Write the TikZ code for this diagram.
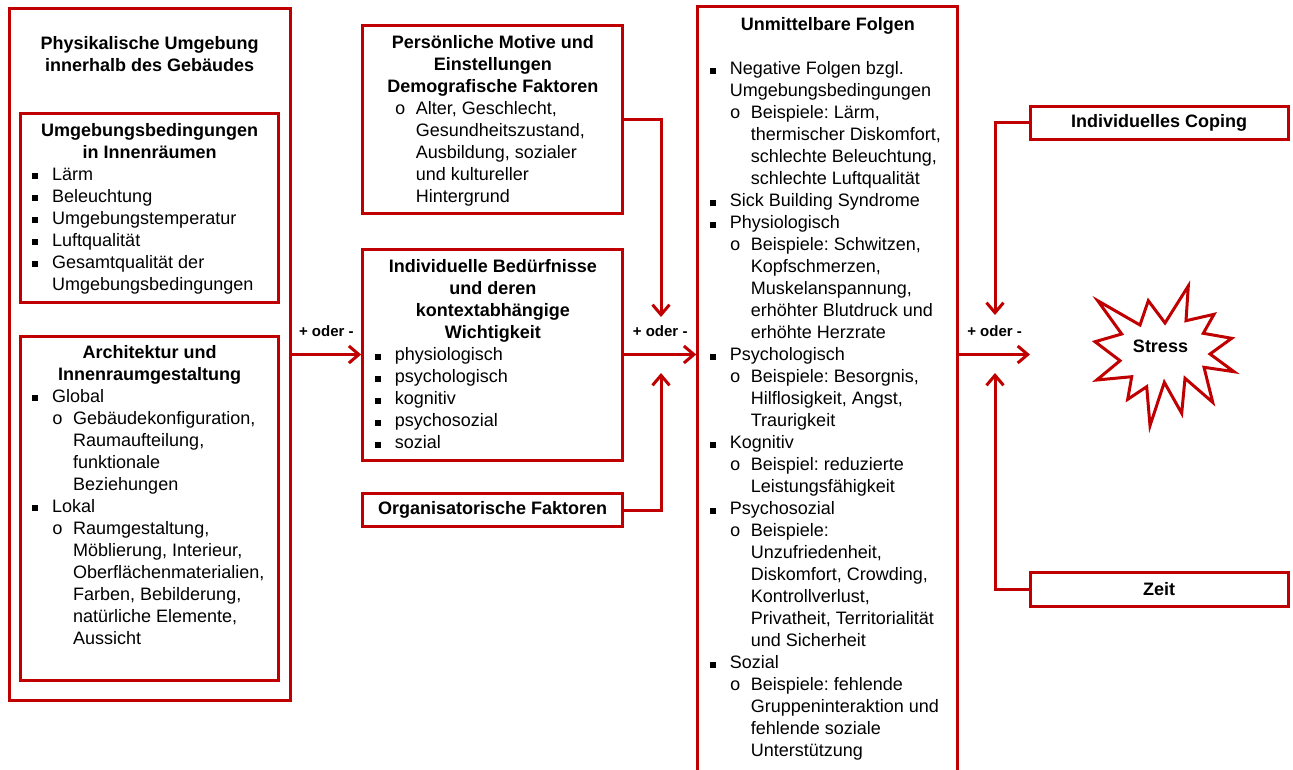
\documentclass[tikz,border=0pt]{standalone}
\usepackage{fontspec}
\setmainfont{Liberation Sans}
\newfontfamily\bulfont{Liberation Mono}
\usepackage{tikz}
\usetikzlibrary{positioning,arrows.meta}
\definecolor{dkred}{RGB}{192,0,0}

% list helpers: title, level-1 item, level-1 continuation, level-2 item, level-2 continuation
\newcommand{\hd}[1]{{\centering\bfseries #1\par}}
\newcommand{\ia}{\hspace*{12pt}\makebox[20pt][l]{\rule[0.8pt]{6pt}{6pt}}}
\newcommand{\ca}{\hspace*{32pt}}
\newcommand{\ib}{\hspace*{32pt}\makebox[21pt][l]{\bulfont o}}
\newcommand{\cb}{\hspace*{53pt}}
\newcommand{\boxtext}[2]{\parbox[t]{#1}{\frenchspacing #2}}

\begin{document}
\begin{tikzpicture}[>={Straight Barb[length=10pt,width=17pt]},x=1pt,y=-1pt,
  frame/.style={draw=dkred,line width=3pt,rectangle,inner sep=0pt},
  arr/.style={->,draw=dkred,line width=3pt},
  txt/.style={anchor=base west,inner sep=0pt,font=\fontsize{18}{22}\selectfont},
  hdbox/.style={frame,font=\fontsize{18}{22}\selectfont\bfseries},
  lbl/.style={inner sep=0pt,font=\fontsize{15}{18}\selectfont\bfseries}]
\useasboundingbox (0,0) rectangle (1293,769);

% boxes
\node[frame,minimum width=281pt,minimum height=692pt] (physbox) at (149.5,354.5) {};
\node[frame,minimum width=258.7pt,minimum height=189pt] (envbox) at (149.4,207.5) {};
\node[frame,minimum width=258.7pt,minimum height=343.8pt] (archbox) at (149.4,508.6) {};
\node[frame,minimum width=260pt,minimum height=188pt] (motivbox) at (492.7,119.3) {};
\node[frame,minimum width=260pt,minimum height=211pt] (needbox) at (492.7,354.5) {};
\node[hdbox,minimum width=260pt,minimum height=32.7pt] (orgbox) at (492.7,510.3) {Organisatorische Faktoren};
\node[frame,minimum width=260pt,minimum height=765.3pt] (folgenbox) at (827.7,389.35) {};
\node[hdbox,minimum width=258pt,minimum height=33.3pt] (copingbox) at (1159,122.7) {Individuelles Coping};
\node[hdbox,minimum width=258pt,minimum height=34pt] (zeitbox) at (1159,589) {Zeit};

% box texts
\node[txt] (phystext) at (9,49) {\boxtext{281pt}{\hd{Physikalische Umgebung\\innerhalb des Gebäudes}}};
\node[txt] (envtext) at (20,136) {\boxtext{258.7pt}{\hd{Umgebungsbedingungen\\in Innenräumen}\raggedright
  \ia Lärm\\ \ia Beleuchtung\\ \ia Umgebungstemperatur\\ \ia Luftqualität\\
  \ia Gesamtqualität der\\ \ca Umgebungsbedingungen}};
\node[txt] (archtext) at (20,358) {\boxtext{258.7pt}{\hd{Architektur und\\Innenraumgestaltung}\raggedright
  \ia Global\\ \ib Gebäudekonfiguration,\\ \cb Raumaufteilung,\\ \cb funktionale\\ \cb Beziehungen\\
  \ia Lokal\\ \ib Raumgestaltung,\\ \cb Möblierung, Interieur,\\ \cb Oberflächenmaterialien,\\
  \cb Farben, Bebilderung,\\ \cb natürliche Elemente,\\ \cb Aussicht}};
\node[txt] (motivtext) at (362.7,48.3) {\boxtext{260pt}{\hd{Persönliche Motive und\\Einstellungen\\Demografische Faktoren}\raggedright
  \ib Alter, Geschlecht,\\ \cb Gesundheitszustand,\\ \cb Ausbildung, sozialer\\ \cb und kultureller\\ \cb Hintergrund}};
\node[txt] (needtext) at (362.7,272.3) {\boxtext{260pt}{\hd{Individuelle Bedürfnisse\\und deren\\kontextabhängige\\Wichtigkeit}\raggedright
  \ia physiologisch\\ \ia psychologisch\\ \ia kognitiv\\ \ia psychosozial\\ \ia sozial}};
\node[txt] (folgentext) at (697.7,30.7) {\boxtext{260pt}{\hd{Unmittelbare Folgen}\vspace{22pt}\raggedright
  \ia Negative Folgen bzgl.\\ \ca Umgebungsbedingungen\\
  \ib Beispiele: Lärm,\\ \cb thermischer Diskomfort,\\ \cb schlechte Beleuchtung,\\ \cb schlechte Luftqualität\\
  \ia Sick Building Syndrome\\
  \ia Physiologisch\\ \ib Beispiele: Schwitzen,\\ \cb Kopfschmerzen,\\ \cb Muskelanspannung,\\ \cb erhöhter Blutdruck und\\ \cb erhöhte Herzrate\\
  \ia Psychologisch\\ \ib Beispiele: Besorgnis,\\ \cb Hilflosigkeit, Angst,\\ \cb Traurigkeit\\
  \ia Kognitiv\\ \ib Beispiel: reduzierte\\ \cb Leistungsfähigkeit\\
  \ia Psychosozial\\ \ib Beispiele:\\ \cb Unzufriedenheit,\\ \cb Diskomfort, Crowding,\\ \cb Kontrollverlust,\\ \cb Privatheit, Territorialität\\ \cb und Sicherheit\\
  \ia Sozial\\ \ib Beispiele: fehlende\\ \cb Gruppeninteraktion und\\ \cb fehlende soziale\\ \cb Unterstützung}};

% stress burst
\draw[draw=dkred,line width=3pt] (1097.7,300.7) -- (1140,325) -- (1148.3,300.7) -- (1165,323) -- (1188.3,286)
  -- (1186,320.7) -- (1214,314.3) -- (1203.3,333.3) -- (1231.7,338.3) -- (1210,354) -- (1234,371.7)
  -- (1204,367.3) -- (1212.7,402.3) -- (1185,378.3) -- (1181.7,413.3) -- (1164.3,382.3) -- (1150,425.7)
  -- (1146.7,386.7) -- (1127.7,399.3) -- (1131.7,376.7) -- (1096.7,380) -- (1120,360.7) -- (1095,341.7)
  -- (1121.7,334) -- cycle;
\node[font=\fontsize{18}{22}\selectfont\bfseries,inner sep=0pt] (stress) at (1160.5,346.3) {Stress};

% free arrow ends
\coordinate (topjoin) at (661,317);
\coordinate (botjoin) at (661,373);
\coordinate (copjoin) at (995,315);
\coordinate (zeitjoin) at (995,373);
\coordinate (stressin) at (1030,354.5);

% connectors
\draw[arr] (physbox.east |- needbox.west) -- (needbox.west) node[lbl,midway,above=16pt] {+ oder -};
\draw[arr] (needbox.east) -- (needbox.east -| folgenbox.west) node[lbl,midway,above=16pt] {+ oder -};
\draw[arr] (folgenbox.east |- stressin) -- (stressin) node[lbl,midway,above=16pt] {+ oder -};
\draw[arr] (motivbox.east) -| (topjoin);
\draw[arr] (orgbox.east) -| (botjoin);
\draw[arr] (copingbox.west) -| (copjoin);
\draw[arr] (zeitbox.west) -| (zeitjoin);
\end{tikzpicture}
\end{document}
